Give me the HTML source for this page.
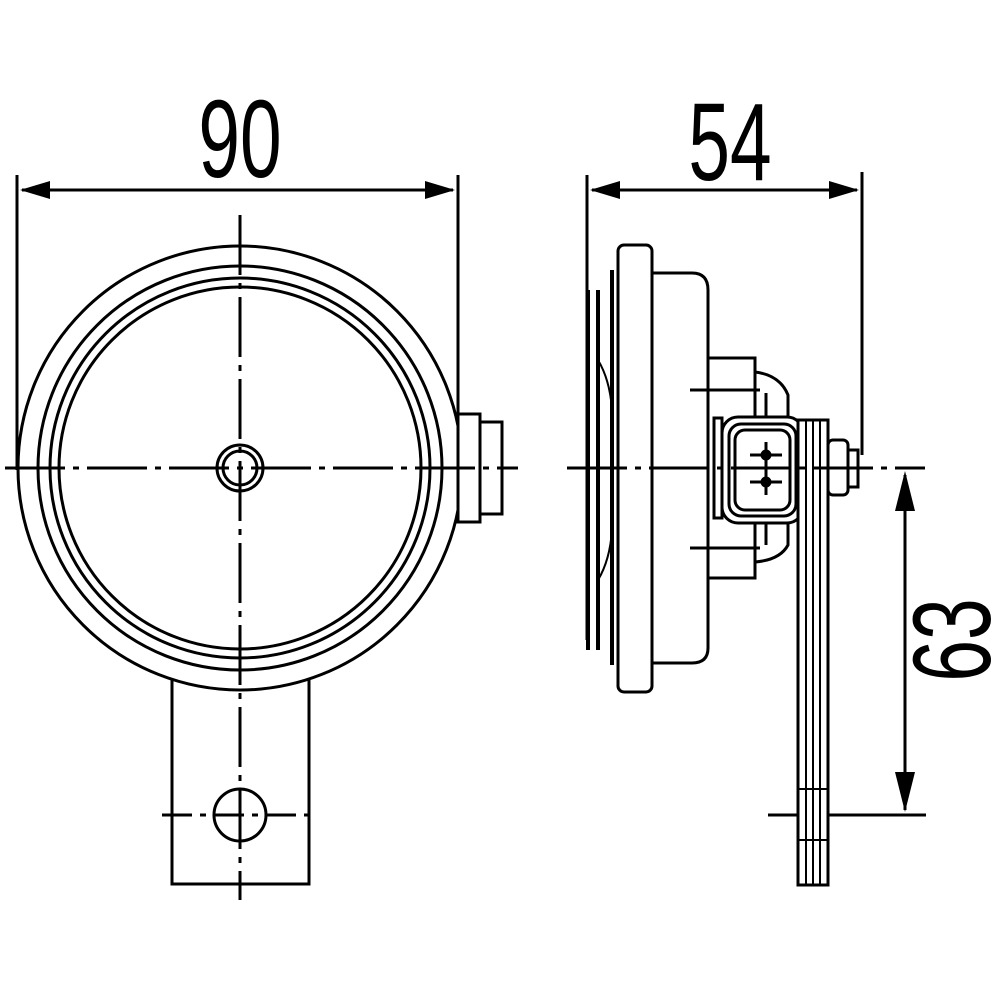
<!DOCTYPE html>
<html><head><meta charset="utf-8"><style>html,body{margin:0;padding:0;background:#fff}svg{display:block}</style></head>
<body>
<svg width="1000" height="1000" viewBox="0 0 1000 1000" xmlns="http://www.w3.org/2000/svg">
<g fill="none" stroke="#000" stroke-width="3">
<!-- Dimension 90 -->
<line x1="17" y1="175" x2="17" y2="470"/>
<line x1="458" y1="175" x2="458" y2="420"/>
<line x1="22" y1="190" x2="453" y2="190"/>
<!-- Dimension 54 -->
<line x1="587" y1="175" x2="587" y2="640"/>
<line x1="862" y1="172" x2="862" y2="455"/>
<line x1="592" y1="190" x2="857" y2="190"/>
<!-- Dimension 63 -->
<line x1="905" y1="475" x2="905" y2="810"/>
<line x1="768" y1="815" x2="926" y2="815"/>

<!-- Front view -->
<circle cx="240" cy="468" r="222"/>
<circle cx="240" cy="468" r="202"/>
<circle cx="240" cy="468" r="190"/>
<circle cx="240" cy="468" r="181"/>
<circle cx="240" cy="468" r="23"/>
<circle cx="240" cy="468" r="17"/>
<rect x="458" y="414" width="22" height="108" fill="#fff"/>
<rect x="480" y="422" width="22" height="92"/>
<path d="M172 680 V884 H309 V680" />
<circle cx="240" cy="815" r="26"/>
<!-- centerlines front -->
<line x1="5" y1="468" x2="518" y2="468" stroke-dasharray="60,8,6,8"/>
<line x1="240" y1="215" x2="240" y2="900" stroke-dasharray="60,8,6,8"/>
<line x1="162" y1="815" x2="318" y2="815" stroke-dasharray="30,8,6,8"/>

<!-- Side view -->
<path d="M588 290 V650 M598 290 V650" stroke-width="4"/>
<path d="M598 360 Q610 380 612 410 M598 580 Q610 560 612 530" stroke-width="2"/>
<line x1="612" y1="270" x2="612" y2="665" stroke-width="4"/>
<rect x="618" y="245" width="34" height="447" rx="6"/>
<path d="M652 273 H692 Q708 273 708 290 V648 Q708 663 692 663 H652"/>
<rect x="708" y="358" width="47" height="220"/>
<path d="M755 372 Q780 375 788 395 V545 Q780 560 755 562"/>
<line x1="690" y1="390" x2="760" y2="390"/>
<line x1="690" y1="548" x2="760" y2="548"/>
<line x1="766" y1="393" x2="766" y2="545"/>
<rect x="714" y="418" width="8" height="100"/>
<rect x="722" y="417" width="81" height="106" rx="16" fill="#fff"/>
<rect x="729" y="424" width="67" height="92" rx="12"/>
<rect x="735" y="430" width="55" height="80" rx="10"/>
<line x1="750" y1="455" x2="782" y2="455"/>
<line x1="750" y1="482" x2="782" y2="482"/>
<line x1="766" y1="442" x2="766" y2="495"/>
<circle cx="766" cy="455" r="4" fill="#000"/>
<circle cx="766" cy="482" r="4" fill="#000"/>
<rect x="798" y="420" width="30" height="465" fill="#fff"/>
<line x1="806" y1="420" x2="806" y2="885" stroke-width="2"/>
<line x1="813" y1="420" x2="813" y2="885" stroke-width="2"/>
<line x1="820" y1="420" x2="820" y2="885" stroke-width="2"/>
<line x1="798" y1="789" x2="828" y2="789" stroke-width="2"/>
<line x1="798" y1="840" x2="828" y2="840" stroke-width="2"/>
<rect x="828" y="440" width="20" height="55" rx="5" fill="#fff"/>
<rect x="848" y="450" width="10" height="37"/>
<line x1="567" y1="468" x2="925" y2="468" stroke-dasharray="60,8,6,8"/>
</g>
<g fill="#000">
<polygon points="20,190 50,181 50,199"/>
<polygon points="455,190 425,181 425,199"/>
<polygon points="590,190 620,181 620,199"/>
<polygon points="859,190 829,181 829,199"/>
<polygon points="905,471 895,511 915,511"/>
<polygon points="905,812 895,772 915,772"/>
</g>
<g font-family="Liberation Sans, sans-serif" font-size="110" fill="#000">
<text transform="translate(240,177) scale(0.68,1)" text-anchor="middle">90</text>
<text transform="translate(730,180) scale(0.68,1)" text-anchor="middle">54</text>
<text transform="translate(990,640) rotate(-90) scale(0.68,1)" text-anchor="middle">63</text>
</g>
</svg>
</body></html>
